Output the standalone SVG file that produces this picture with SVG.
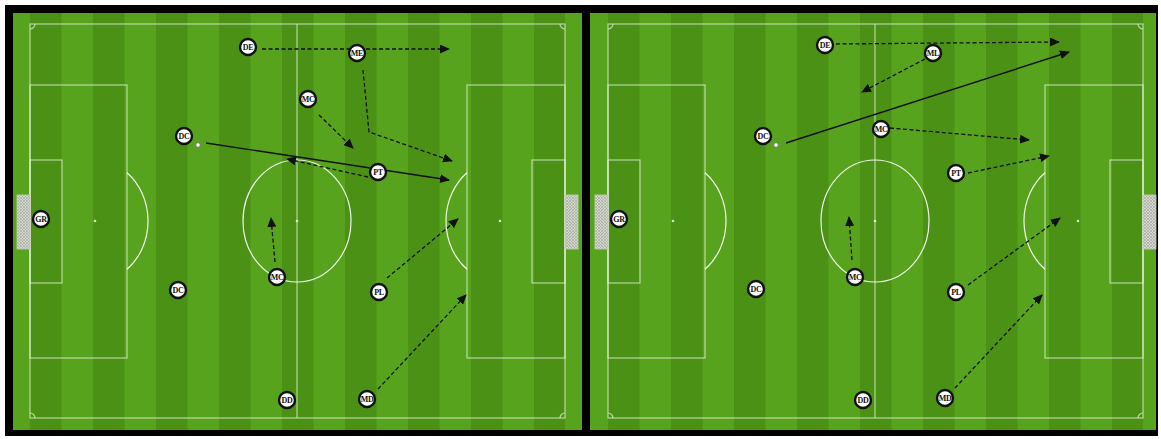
<svg xmlns="http://www.w3.org/2000/svg" xmlns:xlink="http://www.w3.org/1999/xlink" width="1161" height="439" viewBox="0 0 1161 439">
<style>
.ln{fill:none;stroke:#e6f3d8;stroke-opacity:.7;stroke-width:1.2}
.cc{fill:none;stroke:#ffffff;stroke-opacity:.9;stroke-width:1.2}
.spot{fill:#eef8e2;opacity:.85}
.dk{fill:#4a9116}
.lt{fill:#57a31d}
.tok circle{fill:#ffffff;stroke:#111111;stroke-width:2.4}
.tok text{font-family:"Liberation Serif","DejaVu Serif",serif;font-weight:bold;font-size:8px;letter-spacing:-0.3px;fill:#111111;text-anchor:middle}
.dash{fill:none;stroke:#111111;stroke-width:1.3;stroke-dasharray:4 2.5;marker-end:url(#ah)}
.solid{fill:none;stroke:#111111;stroke-width:1.4;marker-end:url(#ah)}
.ball{fill:#ffffff;stroke:#777777;stroke-width:1}
.net{fill:url(#netp);stroke:#c8c8c0;stroke-width:.8}
</style>
<defs>
<marker id="ah" markerUnits="userSpaceOnUse" markerWidth="10" markerHeight="9" refX="9" refY="4.5" orient="auto">
<path d="M0,0 L10,4.5 L0,9 z" fill="#111111"/>
</marker>
<pattern id="netp" width="3" height="3" patternUnits="userSpaceOnUse">
<rect width="3" height="3" fill="#d6d8d0"/>
<path d="M0,0 L3,3 M3,0 L0,3" stroke="#9ea59a" stroke-width=".6"/>
</pattern>
<g id="stripes">
<rect class="dk" x="30" y="13" width="31.5" height="417"/>
<rect class="dk" x="93" y="13" width="31.5" height="417"/>
<rect class="dk" x="156" y="13" width="31.5" height="417"/>
<rect class="dk" x="219" y="13" width="31.5" height="417"/>
<rect class="dk" x="282" y="13" width="31.5" height="417"/>
<rect class="dk" x="345" y="13" width="31.5" height="417"/>
<rect class="dk" x="408" y="13" width="31.5" height="417"/>
<rect class="dk" x="471" y="13" width="31.5" height="417"/>
<rect class="dk" x="534" y="13" width="31" height="417"/>
</g>
<g id="marks">
<rect class="ln" x="30" y="24" width="535" height="394"/>
<line class="ln" x1="297" y1="24" x2="297" y2="418"/>
<ellipse class="cc" cx="297" cy="221" rx="54" ry="61"/>
<circle class="spot" cx="297" cy="221" r="1.3"/>
<rect class="ln" x="30" y="85" width="97" height="273"/>
<rect class="ln" x="30" y="160" width="32" height="123"/>
<circle class="spot" cx="95" cy="221" r="1.3"/>
<path class="cc" d="M127,172.7 A54,61 0 0,1 127,269.3"/>
<rect class="ln" x="467" y="85" width="98" height="273"/>
<rect class="ln" x="532" y="160" width="33" height="123"/>
<circle class="spot" cx="500" cy="221" r="1.3"/>
<path class="cc" d="M467,172.7 A54,61 0 0,0 467,269.3"/>
<path class="ln" d="M30,29 A5,5 0 0,0 35,24 M560,24 A5,5 0 0,0 565,29 M565,413 A5,5 0 0,0 560,418 M35,418 A5,5 0 0,0 30,413"/>
<rect class="net" x="17" y="195" width="13" height="54"/>
<rect class="net" x="565" y="195" width="13" height="54"/>
</g>
</defs>
<rect width="1161" height="439" fill="#ffffff"/>
<rect x="5" y="5" width="1153" height="431" fill="#000000"/>
<g id="pitch-left">
<rect class="lt" x="13" y="13" width="569" height="417"/>
<use xlink:href="#stripes"/>
<use xlink:href="#marks"/>
</g>
<g id="pitch-right">
<rect class="lt" x="590" y="13" width="566" height="417"/>
<use xlink:href="#stripes" transform="translate(578 0)"/>
<use xlink:href="#marks" transform="translate(578 0)"/>
</g>
<g id="connectors">
<line class="dash" x1="262" y1="49" x2="449" y2="49"/>
<polyline class="dash" points="363,70 369,132 452,161"/>
<line class="dash" x1="319" y1="115" x2="353" y2="148"/>
<line class="solid" x1="206" y1="143" x2="449" y2="180"/>
<line class="dash" x1="368" y1="177" x2="287" y2="159"/>
<line class="dash" x1="275" y1="262" x2="271" y2="218"/>
<line class="dash" x1="387" y1="278" x2="458" y2="219"/>
<line class="dash" x1="378" y1="389" x2="466" y2="295"/>
<line class="dash" x1="836" y1="44" x2="1059" y2="42"/>
<line class="dash" x1="925" y1="59" x2="862" y2="92"/>
<line class="solid" x1="786" y1="143" x2="1069" y2="52"/>
<line class="dash" x1="890" y1="128" x2="1029" y2="140"/>
<line class="dash" x1="968" y1="173" x2="1049" y2="156"/>
<line class="dash" x1="968" y1="285" x2="1060" y2="218"/>
<line class="dash" x1="955" y1="388" x2="1042" y2="295"/>
<line class="dash" x1="852" y1="260" x2="849" y2="217"/>
</g>
<g id="ball-left"><circle class="ball" cx="198" cy="145" r="2.3"/></g>
<g id="ball-right"><circle class="ball" cx="776" cy="145" r="2.3"/></g>
<g id="L-DE" class="tok"><circle cx="248" cy="47" r="8"/><text x="248" y="50">DE</text></g>
<g id="L-ME" class="tok"><circle cx="357" cy="53" r="8"/><text x="357" y="56">ME</text></g>
<g id="L-MC1" class="tok"><circle cx="308" cy="99" r="8"/><text x="308" y="102">MC</text></g>
<g id="L-DC1" class="tok"><circle cx="184" cy="136" r="8"/><text x="184" y="139">DC</text></g>
<g id="L-PT" class="tok"><circle cx="378" cy="172" r="8"/><text x="378" y="175">PT</text></g>
<g id="L-GR" class="tok"><circle cx="41" cy="219" r="8"/><text x="41" y="222">GR</text></g>
<g id="L-MC2" class="tok"><circle cx="277" cy="277" r="8"/><text x="277" y="280">MC</text></g>
<g id="L-DC2" class="tok"><circle cx="178" cy="290" r="8"/><text x="178" y="293">DC</text></g>
<g id="L-PL" class="tok"><circle cx="379" cy="292" r="8"/><text x="379" y="295">PL</text></g>
<g id="L-DD" class="tok"><circle cx="287" cy="400" r="8"/><text x="287" y="403">DD</text></g>
<g id="L-MD" class="tok"><circle cx="367" cy="399" r="8"/><text x="367" y="402">MD</text></g>
<g id="R-DE" class="tok"><circle cx="825" cy="45" r="8"/><text x="825" y="48">DE</text></g>
<g id="R-ML" class="tok"><circle cx="933" cy="53" r="8"/><text x="933" y="56">ML</text></g>
<g id="R-MC1" class="tok"><circle cx="881" cy="129" r="8"/><text x="881" y="132">MC</text></g>
<g id="R-DC1" class="tok"><circle cx="763" cy="136" r="8"/><text x="763" y="139">DC</text></g>
<g id="R-PT" class="tok"><circle cx="956" cy="173" r="8"/><text x="956" y="176">PT</text></g>
<g id="R-GR" class="tok"><circle cx="619" cy="219" r="8"/><text x="619" y="222">GR</text></g>
<g id="R-MC2" class="tok"><circle cx="855" cy="277" r="8"/><text x="855" y="280">MC</text></g>
<g id="R-DC2" class="tok"><circle cx="756" cy="289" r="8"/><text x="756" y="292">DC</text></g>
<g id="R-PL" class="tok"><circle cx="956" cy="292" r="8"/><text x="956" y="295">PL</text></g>
<g id="R-DD" class="tok"><circle cx="863" cy="400" r="8"/><text x="863" y="403">DD</text></g>
<g id="R-MD" class="tok"><circle cx="945" cy="398" r="8"/><text x="945" y="401">MD</text></g>
</svg>
